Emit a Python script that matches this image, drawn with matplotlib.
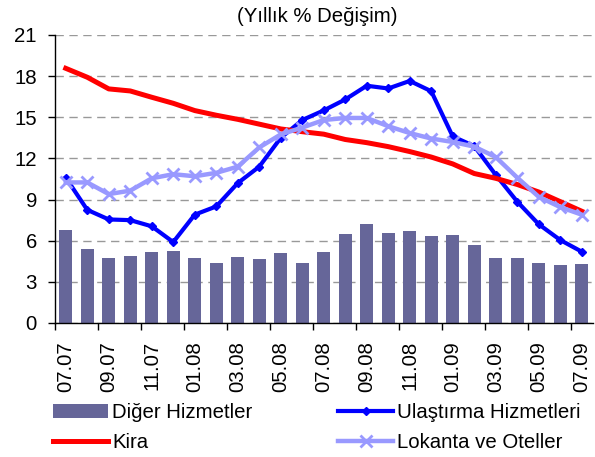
import numpy as np
import matplotlib
matplotlib.use("Agg")
import matplotlib.pyplot as plt

plt.rcParams['font.family'] = ['Liberation Sans', 'DejaVu Sans']

months = ["07.07", "08.07", "09.07", "10.07", "11.07", "12.07",
          "01.08", "02.08", "03.08", "04.08", "05.08", "06.08",
          "07.08", "08.08", "09.08", "10.08", "11.08", "12.08",
          "01.09", "02.09", "03.09", "04.09", "05.09", "06.09", "07.09"]

diger = [6.8, 5.4, 4.75, 4.9, 5.2, 5.25, 4.75, 4.4, 4.8, 4.7, 5.1, 4.4, 5.2,
         6.5, 7.2, 6.55, 6.7, 6.35, 6.4, 5.7, 4.75, 4.75, 4.4, 4.25, 4.3]
ulastirma = [10.6, 8.25, 7.55, 7.5, 7.05, 5.9, 7.9, 8.5, 10.2, 11.4, 13.5, 14.8, 15.5,
             16.3, 17.3, 17.1, 17.65, 16.9, 13.6, 12.9, 10.8, 8.85, 7.2, 6.05, 5.2]
kira = [18.57, 17.92, 17.07, 16.92, 16.46, 16.02, 15.49, 15.15, 14.85, 14.5, 14.15, 13.95, 13.77,
        13.38, 13.15, 12.86, 12.5, 12.1, 11.6, 10.9, 10.55, 10.1, 9.55, 8.85, 8.15]
lokanta = [10.25, 10.25, 9.4, 9.65, 10.55, 10.85, 10.7, 10.95, 11.4, 12.8, 13.75, 14.25, 14.8,
           14.95, 14.95, 14.35, 13.85, 13.45, 13.2, 12.86, 12.1, 10.6, 9.2, 8.45, 7.9]

fs = 14.7
x = np.arange(len(months))

fig = plt.figure(figsize=(5.95, 4.57), dpi=100)
ax = fig.add_axes([55/595, 1-323/457, 537.5/595, 288/457])

b = ax.bar(x, diger, width=0.6, color='#666699', label='Diğer Hizmetler', zorder=2)
l1, = ax.plot(x, ulastirma, color='#0000FF', lw=3, marker='D', ms=4.5, label='Ulaştırma Hizmetleri', zorder=3)
l2, = ax.plot(x, kira, color='#FF0000', lw=3.6, label='Kira', zorder=4)
l3, = ax.plot(x, lokanta, color='#9999FF', lw=3.2, marker='x', ms=9, mew=2, label='Lokanta ve Oteller', zorder=5)

ax.set_xlim(-0.5, len(months) - 0.5)
ax.set_ylim(0, 21)
ax.set_yticks(np.arange(0, 22, 3))
ax.yaxis.grid(True, color='#999999', linestyle=(0, (6, 4)), lw=1)
ax.set_axisbelow(True)

ax.set_xticks(np.arange(-0.5, len(months) - 1, 2))
ax.set_xticklabels([])
ax.set_xticks(x[::2], minor=True)
ax.set_xticklabels(months[::2], minor=True, rotation=90, fontsize=fs)
ax.tick_params(axis='x', which='major', direction='out', length=5, width=1)
ax.tick_params(axis='x', which='minor', length=0, pad=13)
ax.tick_params(axis='y', direction='out', length=5, width=1, pad=8, labelsize=fs)

for s in ['top', 'right']:
    ax.spines[s].set_visible(False)
for s in ['left', 'bottom']:
    ax.spines[s].set_color('black')
    ax.spines[s].set_linewidth(1)

fig.text(317/595, 1-17/457, "(Yıllık % Değişim)", ha='center', va='center', fontsize=fs)

# columns: (Diğer, Kira) and (Ulaştırma, Lokanta)
fig.legend([b, l2, l1, l3], ['Diğer Hizmetler', 'Kira', 'Ulaştırma Hizmetleri', 'Lokanta ve Oteller'],
           ncol=2, frameon=False, loc='upper left', bbox_to_anchor=(53/595, 1-403/457), fontsize=fs,
           handlelength=2.7, handletextpad=0.2, columnspacing=4.2, numpoints=1,
           labelspacing=0.55, borderaxespad=0, borderpad=0)

fig.savefig('out.png', dpi=100)
